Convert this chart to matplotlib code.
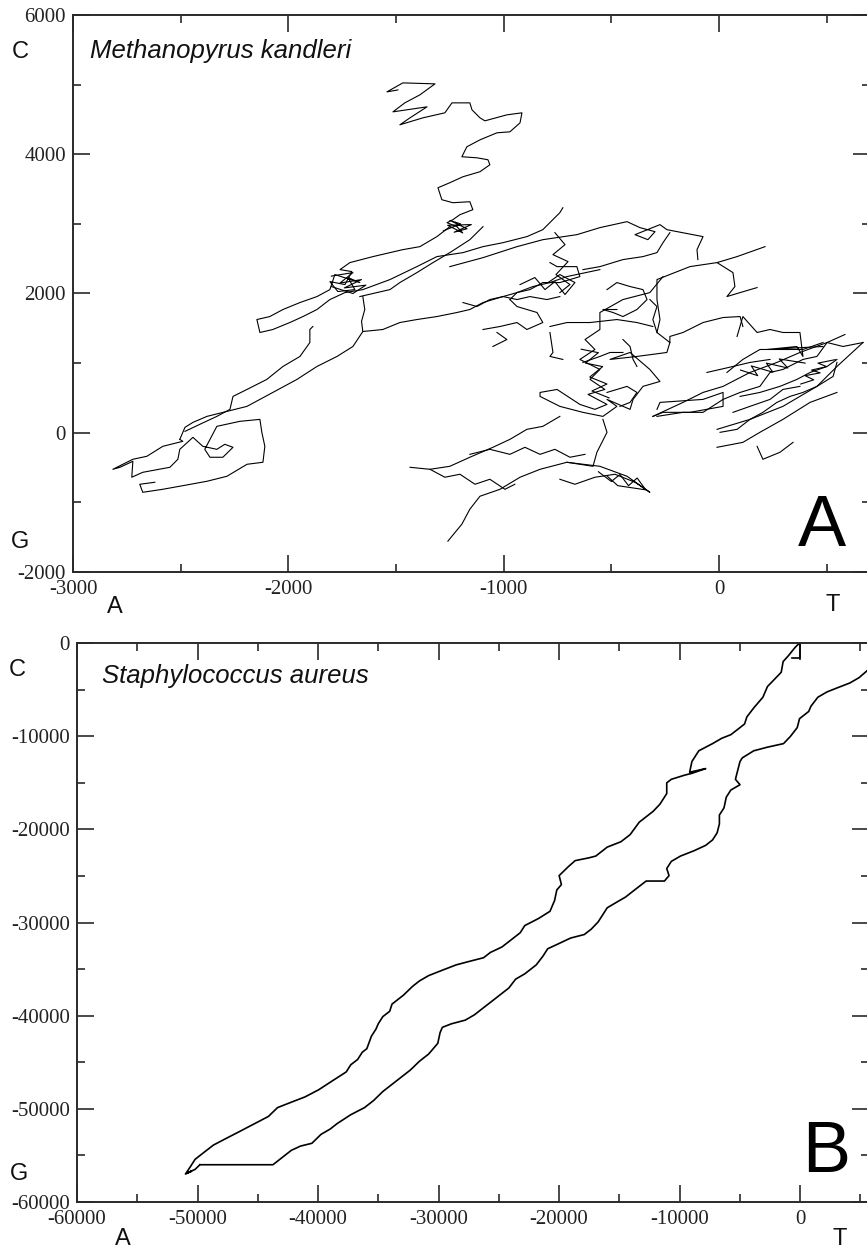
import matplotlib
matplotlib.use("Agg")
import matplotlib.pyplot as plt
from matplotlib.ticker import MultipleLocator, FuncFormatter

# DNA walks: x = T - A, y = C - G (cumulative counts)

# --- Methanopyrus kandleri, traced strand by strand ---
mk_top_arm = [(-1217, 2960), (-1263, 3017), (-1236, 3060), (-1203, 3132), (-1143, 3204), (-1157, 3318),
              (-1236, 3304), (-1287, 3347), (-1305, 3519), (-1250, 3591), (-1189, 3677), (-1110, 3749),
              (-1064, 3849), (-1073, 3921), (-1124, 3949), (-1194, 3964), (-1171, 4107), (-1110, 4207),
              (-1031, 4308), (-971, 4322), (-924, 4451), (-915, 4595), (-985, 4566), (-1087, 4480),
              (-1110, 4523), (-1147, 4638), (-1157, 4738), (-1240, 4738), (-1273, 4595), (-1375, 4523),
              (-1482, 4423), (-1435, 4523), (-1356, 4681), (-1514, 4609), (-1459, 4738), (-1389, 4853),
              (-1319, 5011), (-1468, 5025), (-1542, 4896), (-1491, 4924)]
mk_top_knot = [(-1280, 2900), (-1200, 3000), (-1250, 3050), (-1170, 2930), (-1230, 2880), (-1150, 2990),
               (-1260, 2980), (-1190, 2870), (-1217, 2960)]
mk_left_arm = [(-1250, 2960), (-1310, 2817), (-1389, 2673), (-1468, 2630), (-1528, 2587), (-1607, 2530),
               (-1714, 2444), (-1760, 2343), (-1705, 2315), (-1737, 2128), (-1807, 2171), (-1770, 2028),
               (-1691, 2056), (-1723, 2229), (-1668, 2157), (-1784, 2272), (-1807, 2056), (-1867, 1956),
               (-1946, 1870), (-2025, 1770), (-2086, 1669), (-2146, 1626), (-2132, 1440), (-2072, 1483),
               (-1993, 1583), (-1932, 1669), (-1867, 1770), (-1807, 1913), (-1737, 2013), (-1654, 2056),
               (-1528, 2200), (-1403, 2386), (-1310, 2530), (-1189, 2587), (-1096, 2673), (-1003, 2730),
               (-892, 2817), (-818, 2917), (-739, 3161), (-725, 3232)]
mk_left_knot = [(-1800, 2250), (-1700, 2300), (-1760, 2150), (-1660, 2200), (-1740, 2080), (-1640, 2120),
                (-1700, 2000), (-1800, 2100)]
mk_left_inner = [(-1096, 2960), (-1157, 2773), (-1250, 2587), (-1328, 2444), (-1403, 2300), (-1482, 2157),
                 (-1528, 2056), (-1589, 2013), (-1668, 1956)]
mk_long_line = [(-553, 2343), (-706, 2243), (-785, 2157), (-864, 2100), (-938, 2013), (-1003, 1956),
                (-1096, 1870), (-1157, 1770), (-1217, 1727), (-1310, 1669), (-1403, 1626), (-1482, 1583),
                (-1561, 1483), (-1654, 1454), (-1700, 1239), (-1774, 1096), (-1867, 952), (-1960, 766),
                (-2072, 579), (-2192, 379), (-2285, 307), (-2378, 235), (-2443, 149), (-2480, 78),
                (-2504, -95)]
mk_blob = [(-2504, -95), (-2490, -123), (-2583, -195), (-2657, -338), (-2722, -381), (-2815, -525),
           (-2782, -496), (-2722, -410), (-2727, -639), (-2676, -568), (-2550, -496), (-2513, -381),
           (-2504, -238), (-2443, -66), (-2397, -195), (-2332, -238), (-2295, -166), (-2257, -209),
           (-2304, -352), (-2364, -352), (-2388, -238), (-2332, 92), (-2225, 164), (-2132, 192),
           (-2123, 6), (-2109, -195), (-2118, -424), (-2192, -453), (-2285, -625), (-2378, -697),
           (-2504, -768), (-2583, -812), (-2643, -840), (-2676, -855), (-2690, -740), (-2620, -711)]
mk_left_drop = [(-1886, 1526), (-1900, 1483), (-1900, 1296), (-1946, 1096), (-2025, 952), (-2100, 766),
                (-2192, 622), (-2257, 522), (-2271, 336), (-2332, 235), (-2411, 121), (-2480, 20)]
mk_vertical = [(-1654, 1956), (-1645, 1770), (-1660, 1600), (-1654, 1454)]
mk_upper_band = [(-1250, 2386), (-1096, 2515), (-938, 2673), (-818, 2773), (-660, 2845), (-553, 2946),
                 (-427, 3032), (-367, 2946), (-297, 2888), (-330, 2773), (-390, 2845), (-274, 2989),
                 (-242, 2917), (-74, 2817), (-102, 2630), (-98, 2487)]
mk_ne_tip = [(214, 2673), (84, 2530), (-9, 2444), (65, 2300), (74, 2100), (37, 1956), (98, 2013), (177, 2085)]
mk_ne_drop = [(-9, 2444), (-135, 2386), (-288, 2200), (-288, 1913), (-274, 1626), (-288, 1440), (-228, 1296),
              (-228, 1383), (-167, 1440), (-74, 1583), (19, 1655), (98, 1669), (111, 1526)]
mk_ne_stub = [(-321, 1913), (-288, 1813), (-307, 1626), (-288, 1440)]
mk_upper_right_line = [(-632, 2343), (-553, 2386), (-446, 2487), (-353, 2530), (-288, 2587), (-260, 2730),
                       (-228, 2874)]
mk_center_band = [(-1189, 1870), (-1124, 1813), (-1064, 1913), (-1003, 1956), (-938, 1913), (-878, 1956),
                  (-799, 1913), (-739, 1956)]
mk_center_arc = [(-971, 1913), (-938, 2013), (-878, 2056), (-818, 2157), (-739, 2157), (-692, 2200),
                 (-646, 2243), (-660, 2386), (-752, 2386), (-785, 2444)]
mk_center_zig = [(-762, 2874), (-715, 2702), (-771, 2558), (-701, 2458), (-757, 2272), (-692, 2128), (-739, 2013)]
mk_center_hook = [(-785, 1440), (-771, 1153), (-785, 1096), (-725, 1053)]
mk_right_knot = [(-520, 2056), (-474, 2157), (-413, 2100), (-353, 2056), (-334, 1913), (-381, 1770),
                 (-446, 1669), (-492, 1727), (-539, 1770), (-474, 1770)]
mk_mid_cross = [(-785, 1526), (-706, 1583), (-599, 1583), (-474, 1626), (-381, 1583), (-307, 1526)]
mk_mid_link = [(-632, 1010), (-553, 1096), (-506, 1153), (-446, 1153)]
mk_col_link = [(-446, 1339), (-413, 1239), (-399, 1053), (-381, 952)]
mk_col_side = [(-520, 579), (-427, 666), (-381, 579), (-413, 436), (-460, 379)]
mk_column = [(-260, 2243), (-321, 2013), (-446, 1913), (-553, 1727), (-553, 1483), (-622, 1339), (-576, 1196),
             (-646, 1053), (-553, 909), (-599, 766), (-530, 622), (-608, 551), (-520, 407), (-576, 336),
             (-646, 407), (-752, 622), (-831, 579), (-831, 522), (-739, 379), (-632, 293), (-539, 235),
             (-474, 379), (-520, 479), (-413, 336), (-399, 479), (-353, 666), (-274, 737), (-321, 909),
             (-413, 1153), (-506, 1053), (-381, 1096), (-242, 1153), (-228, 1296)]
mk_column_knot = [(-640, 1200), (-560, 1150), (-620, 1000), (-540, 950), (-600, 800), (-520, 700),
                  (-590, 600), (-510, 500)]
mk_sw_line = [(-739, 235), (-818, 92), (-892, 49), (-971, -95), (-1050, -209), (-1157, -352), (-1250, -482),
              (-1342, -525), (-1435, -496)]
mk_south_tail = [(-539, 192), (-520, 6), (-567, -281), (-585, -482), (-706, -424), (-831, -525), (-924, -639),
                 (-1017, -812), (-1110, -912), (-1157, -1098), (-1194, -1313), (-1259, -1557)]
mk_south_cluster = [(-706, -424), (-553, -482), (-427, -625), (-321, -855), (-390, -711), (-483, -596),
                    (-576, -639), (-669, -740), (-739, -668)]
mk_south_band = [(-1157, -310), (-1064, -238), (-971, -310), (-901, -209), (-831, -310), (-762, -238),
                 (-692, -352), (-622, -310)]
mk_south_knot = [(-560, -560), (-500, -700), (-460, -600), (-420, -760), (-380, -650), (-340, -820),
                 (-470, -760), (-520, -620)]
mk_south_left = [(-1342, -525), (-1273, -639), (-1203, -596), (-1133, -740), (-1064, -668), (-994, -812),
                 (-948, -740)]
mk_east_a = [(-307, 235), (-167, 436), (-74, 579), (19, 666), (144, 866), (269, 1010), (376, 1153),
             (502, 1296), (585, 1411)]
mk_east_loop = [(-288, 336), (-274, 436), (-74, 479), (19, 579), (19, 379), (-135, 293), (-260, 293), (-307, 235)]
mk_east_b = [(84, 1383), (111, 1669), (177, 1440), (237, 1483), (297, 1440), (376, 1440), (390, 1096),
             (362, 1239), (223, 1196), (483, 1239)]
mk_east_c = [(-56, 866), (65, 952), (144, 1010), (237, 1053)]
mk_east_d = [(-9, 49), (144, 192), (297, 379), (455, 666), (548, 952), (669, 1296)]
mk_east_e = [(-9, -209), (111, -138), (190, 6), (297, 192), (423, 436), (548, 579)]
mk_east_f = [(177, -195), (204, -381), (283, -281), (344, -138)]
mk_east_g = [(-288, 235), (-167, 293), (-74, 293), (19, 479), (98, 579), (190, 666), (237, 866), (297, 909),
             (390, 1053), (455, 1096), (502, 1296), (576, 1239), (669, 1296)]
mk_east_h = [(37, 866), (111, 1053), (190, 1196), (283, 1196), (390, 1196), (483, 1296)]
mk_east_i = [(5, 6), (84, 49), (144, 192), (204, 293), (269, 436), (330, 522), (390, 579), (455, 666),
             (530, 809), (548, 1010)]
mk_east_j = [(65, 293), (144, 379), (237, 479), (297, 622), (376, 666)]
mk_east_k = [(98, 522), (190, 579), (283, 666), (362, 766), (423, 866), (502, 952), (548, 1053)]
mk_east_knot = [(100, 900), (180, 820), (150, 960), (250, 870), (220, 1000), (320, 930), (280, 1060), (400, 1000)]
mk_east_knot2 = [(380, 700), (440, 760), (400, 820), (470, 860), (430, 900), (500, 950), (460, 1000), (540, 1050)]
mk_mid_loop = [(-1096, 1483), (-1017, 1526), (-938, 1583), (-892, 1483), (-818, 1583), (-845, 1727),
               (-938, 1813), (-971, 1913)]
mk_mid_hook = [(-1050, 1239), (-985, 1339), (-1031, 1440)]
mk_mid_cluster = [(-924, 2128), (-855, 2229), (-808, 2056), (-762, 2171), (-715, 1985), (-669, 2157),
                  (-739, 2272), (-794, 2157)]

# --- Staphylococcus aureus ---
sa_origin = [(0, 0), (0, -1650), (-650, -1650)]
sa_first_half = [(-100, -80), (-400, -460), (-1000, -1420), (-1400, -1990), (-1560, -3140), (-2130, -3910),
                 (-2700, -4670), (-3080, -5820), (-3840, -6970), (-4410, -7930), (-4600, -8690), (-5170, -9270),
                 (-5740, -9840), (-6500, -10230), (-7260, -10800), (-8400, -11570), (-8970, -12720),
                 (-9160, -13870), (-7830, -13480), (-9000, -14000), (-9540, -14170), (-10680, -14630),
                 (-11060, -15010), (-11060, -16160), (-11630, -17310), (-12200, -18080), (-13340, -19230),
                 (-14100, -20570), (-14860, -21330), (-16000, -21910), (-16950, -22870), (-17520, -23060),
                 (-18660, -23360), (-19230, -24010), (-19990, -24970), (-19800, -25930), (-20180, -26500),
                 (-20370, -27650), (-20750, -28800), (-21700, -29570), (-22840, -30330), (-23220, -31100),
                 (-23980, -31870), (-24740, -32630), (-25690, -33210), (-26260, -33780), (-27400, -34160),
                 (-28540, -34550), (-29680, -35120), (-30820, -35700), (-31580, -36270), (-32150, -36850),
                 (-32910, -37800), (-33860, -38760), (-34050, -39530), (-34620, -40100), (-35000, -40870),
                 (-35190, -41440), (-35570, -42210), (-35950, -43550), (-36330, -43930), (-36710, -44700),
                 (-37280, -45270), (-37660, -46040), (-38800, -46990), (-39940, -47950), (-41080, -48720),
                 (-42220, -49290), (-43360, -49870), (-44120, -50820), (-45260, -51590), (-46400, -52360),
                 (-47540, -53120), (-48680, -53890), (-49440, -54650), (-50200, -55420), (-50580, -56190),
                 (-51000, -57000), (-50500, -56700), (-50900, -56900), (-50200, -56500), (-49800, -56000)]
sa_second_half = [(-49800, -56000), (-43740, -56000), (-42980, -55230), (-42220, -54460), (-41460, -54000),
                  (-40510, -53700), (-39750, -52740), (-38990, -52170), (-38420, -51590), (-37280, -50630),
                  (-36140, -49870), (-35380, -49100), (-34620, -48140), (-33480, -46990), (-32340, -45840),
                  (-31580, -44890), (-30820, -44120), (-30060, -42970), (-29870, -41820), (-29680, -41250),
                  (-28920, -40870), (-27780, -40480), (-27020, -39910), (-26260, -39140), (-25500, -38380),
                  (-24740, -37610), (-24170, -37040), (-23600, -36080), (-22840, -35510), (-21890, -34550),
                  (-21320, -33590), (-20940, -32820), (-19990, -32250), (-19040, -31670), (-17900, -31290),
                  (-17330, -30720), (-16760, -29950), (-16380, -29190), (-16000, -28420), (-15240, -27840),
                  (-14480, -27270), (-13720, -26500), (-12960, -25740), (-12770, -25550), (-11250, -25550),
                  (-10870, -24970), (-11060, -24210), (-10680, -23440), (-9920, -22870), (-8780, -22290),
                  (-7830, -21720), (-7260, -21140), (-6880, -20380), (-6690, -19420), (-6690, -18460),
                  (-6310, -17700), (-6120, -16550), (-5740, -15780), (-4980, -15210), (-5360, -14630),
                  (-5170, -13670), (-4980, -12720), (-4790, -12330), (-3840, -11570), (-2700, -11180),
                  (-1370, -10800), (-800, -10030), (-230, -9080), (-40, -8120), (720, -7350), (910, -6780),
                  (1480, -5820), (2240, -5250), (3000, -4860), (4140, -4290), (4900, -3720), (5590, -2950),
                  (7000, -800)]

mk_strands = [mk_top_arm, mk_top_knot, mk_left_arm, mk_left_knot, mk_left_inner, mk_long_line, mk_blob,
              mk_left_drop, mk_vertical, mk_upper_band, mk_ne_tip, mk_ne_drop, mk_ne_stub, mk_upper_right_line,
              mk_center_band, mk_center_arc, mk_center_zig, mk_center_hook, mk_right_knot, mk_mid_cross,
              mk_mid_link, mk_col_link, mk_col_side, mk_column, mk_column_knot, mk_sw_line, mk_south_tail,
              mk_south_cluster, mk_south_band, mk_south_knot, mk_south_left, mk_east_a, mk_east_loop,
              mk_east_b, mk_east_c, mk_east_d, mk_east_e, mk_east_f, mk_east_g, mk_east_h, mk_east_i,
              mk_east_j, mk_east_k, mk_east_knot, mk_east_knot2, mk_mid_loop, mk_mid_hook, mk_mid_cluster]
sa_strands = [sa_origin, sa_first_half, sa_second_half]

W, H = 867, 1254
fig = plt.figure(figsize=(W / 100, H / 100), dpi=100)
plt.rcParams['axes.unicode_minus'] = False

spine_col = '#2a2a2a'
serif = 'Liberation Serif'
sans = 'Liberation Sans'


def style_axes(ax, xmaj, xmin, ymaj, ymin):
    ax.xaxis.set_major_locator(MultipleLocator(xmaj))
    ax.xaxis.set_minor_locator(MultipleLocator(xmin))
    ax.yaxis.set_major_locator(MultipleLocator(ymaj))
    ax.yaxis.set_minor_locator(MultipleLocator(ymin))
    fmt = FuncFormatter(lambda v, p: "%d" % round(v))
    ax.xaxis.set_major_formatter(fmt)
    ax.yaxis.set_major_formatter(fmt)
    ax.tick_params(which='both', direction='in', top=True, right=True, color=spine_col, width=1.2)
    ax.tick_params(which='major', length=12)
    ax.tick_params(which='minor', length=6)
    ax.tick_params(axis='y', pad=5)
    ax.tick_params(axis='x', pad=6)
    for lab in ax.get_xticklabels() + ax.get_yticklabels():
        lab.set_fontfamily(serif)
        lab.set_fontsize(15)
        lab.set_color('#222222')
    for s in ax.spines.values():
        s.set_color(spine_col)
        s.set_linewidth(1.4)


def ftext(px, py, s, **kw):
    fig.text(px / W, 1 - py / H, s, **kw)


# panel A
axA = fig.add_axes([73 / W, 1 - 572 / H, (869.7 - 73) / W, 557 / H])
for strand in mk_strands:
    xs, ys = zip(*strand)
    axA.plot(xs, ys, color='black', lw=0.8)
axA.set_xlim(-3000, 700)
axA.set_ylim(-2000, 6000)
style_axes(axA, 1000, 500, 2000, 1000)

# panel B
axB = fig.add_axes([77 / W, 1 - 1202 / H, (868.7 - 77) / W, 559 / H])
for strand in sa_strands:
    xs, ys = zip(*strand)
    axB.plot(xs, ys, color='black', lw=1.2)
axB.set_xlim(-60000, 5700)
axB.set_ylim(-60000, 0)
style_axes(axB, 10000, 5000, 10000, 5000)

# base labels and panel annotations
lab_kw = dict(fontfamily=sans, fontsize=17, ha='center', va='center', color='#111111')
ftext(20, 52, 'C', **lab_kw)
ftext(20, 542, 'G', **lab_kw)
ftext(115, 607, 'A', **lab_kw)
ftext(833, 605, 'T', **lab_kw)
ftext(17, 670, 'C', **lab_kw)
ftext(19, 1174, 'G', **lab_kw)
ftext(123, 1239, 'A', **lab_kw)
ftext(840, 1239, 'T', **lab_kw)

big_kw = dict(fontfamily=sans, fontsize=52, ha='center', va='center', color='black')
ftext(822, 528, 'A', **big_kw)
ftext(826, 1154, 'B', **big_kw)

title_kw = dict(fontfamily=sans, fontstyle='italic', fontsize=18.5, ha='left', va='baseline', color='#111111')
ftext(90, 58, 'Methanopyrus kandleri', **title_kw)
ftext(102, 683, 'Staphylococcus aureus', **title_kw)

fig.savefig('out.png', dpi=100, facecolor='white')
